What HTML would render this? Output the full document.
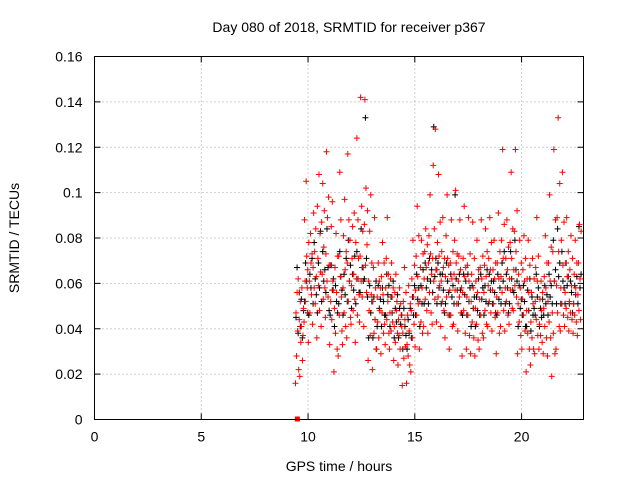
<!DOCTYPE html>
<html><head><meta charset="utf-8">
<style>
html,body{margin:0;padding:0;background:#fff;}
svg{display:block;font-family:"Liberation Sans",sans-serif;}
</style></head>
<body>
<svg id="chart" width="640" height="480" viewBox="0 0 640 480">
<text x="349" y="32" font-size="14" text-anchor="middle">Day 080 of 2018, SRMTID for receiver p367</text>
<text x="339" y="471" font-size="14" text-anchor="middle">GPS time / hours</text>
<text x="19" y="238" font-size="14" text-anchor="middle" transform="rotate(-90 19 238)">SRMTID / TECUs</text>
<g id="grid"></g>
<g id="axes"></g>
<g id="black"></g>
<g id="red"></g>
<rect x="94.5" y="56.5" width="489" height="363" fill="none" stroke="#000"/>
</svg>
<script>
const xTicks=[0,5,10,15,20];
const yTicks=[0,0.02,0.04,0.06,0.08,0.1,0.12,0.14,0.16];
const yTickLabels=["0","0.02","0.04","0.06","0.08","0.1","0.12","0.14","0.16"];
const slotTimes=[9.5,9.7,9.9,10.1,10.3,10.5,10.7,10.9,11.1,11.3,11.5,11.7,11.9,12.1,12.3,12.5,12.7,12.9,13.1,13.3,13.5,13.7,13.9,14.1,14.3,14.5,14.7,14.9,15.1,15.3,15.5,15.7,15.9,16.1,16.3,16.5,16.7,16.9,17.1,17.3,17.5,17.7,17.9,18.1,18.3,18.5,18.7,18.9,19.1,19.3,19.5,19.7,19.9,20.1,20.3,20.5,20.7,20.9,21.1,21.3,21.5,21.7,21.9,22.1,22.3,22.5,22.7];
const redValues=[
[0.016,0.047,0.028,0.056,0.039,0.062,0.022,0.044],
[0.019,0.052,0.034,0.041,0.058,0.026,0.037,0.049],
[0.043,0.088,0.061,0.052,0.105,0.072,0.058,0.066],
[0.034,0.078,0.061,0.047,0.082,0.069,0.055,0.073],
[0.042,0.067,0.091,0.058,0.074,0.051,0.084,0.063],
[0.036,0.094,0.071,0.059,0.108,0.048,0.082,0.065],
[0.041,0.087,0.064,0.104,0.053,0.076,0.092,0.058],
[0.045,0.073,0.118,0.061,0.089,0.054,0.098,0.068],
[0.033,0.068,0.052,0.085,0.044,0.096,0.061,0.057],
[0.021,0.049,0.067,0.038,0.082,0.056,0.031,0.072],
[0.028,0.072,0.046,0.109,0.063,0.088,0.054,0.039],
[0.033,0.058,0.081,0.047,0.097,0.066,0.041,0.074],
[0.036,0.069,0.117,0.052,0.088,0.061,0.079,0.045],
[0.042,0.059,0.071,0.085,0.048,0.064,0.091,0.053],
[0.034,0.078,0.062,0.124,0.046,0.088,0.071,0.055],
[0.043,0.072,0.142,0.061,0.094,0.054,0.083,0.067],
[0.041,0.086,0.141,0.068,0.102,0.056,0.077,0.092],
[0.026,0.061,0.048,0.083,0.037,0.099,0.055,0.069],
[0.022,0.052,0.067,0.038,0.089,0.044,0.058,0.031],
[0.031,0.054,0.043,0.069,0.036,0.061,0.048,0.058],
[0.029,0.063,0.047,0.078,0.055,0.038,0.069,0.042],
[0.033,0.058,0.071,0.044,0.089,0.052,0.064,0.038],
[0.031,0.047,0.062,0.039,0.069,0.054,0.043,0.058],
[0.026,0.041,0.056,0.034,0.064,0.048,0.052,0.038],
[0.024,0.044,0.037,0.058,0.031,0.051,0.046,0.041],
[0.015,0.038,0.052,0.027,0.067,0.044,0.032,0.056],
[0.016,0.033,0.046,0.028,0.059,0.039,0.024,0.051],
[0.021,0.048,0.062,0.036,0.079,0.054,0.042,0.068],
[0.032,0.057,0.072,0.046,0.094,0.063,0.051,0.081],
[0.031,0.052,0.067,0.043,0.079,0.058,0.038,0.073],
[0.041,0.062,0.074,0.053,0.084,0.067,0.048,0.077],
[0.038,0.069,0.081,0.056,0.099,0.073,0.047,0.064],
[0.042,0.071,0.112,0.061,0.084,0.053,0.128,0.066],
[0.043,0.066,0.078,0.054,0.108,0.072,0.059,0.087],
[0.041,0.061,0.074,0.052,0.089,0.067,0.048,0.071],
[0.036,0.063,0.081,0.054,0.099,0.071,0.046,0.068],
[0.031,0.057,0.069,0.046,0.088,0.062,0.041,0.074],
[0.042,0.064,0.079,0.057,0.101,0.069,0.051,0.073],
[0.039,0.061,0.072,0.054,0.088,0.066,0.047,0.058],
[0.028,0.056,0.071,0.048,0.094,0.063,0.038,0.067],
[0.031,0.054,0.068,0.046,0.089,0.061,0.037,0.073],
[0.029,0.052,0.064,0.043,0.087,0.058,0.036,0.071],
[0.028,0.049,0.061,0.042,0.079,0.056,0.035,0.066],
[0.031,0.053,0.067,0.046,0.088,0.062,0.038,0.072],
[0.036,0.056,0.068,0.048,0.084,0.063,0.042,0.074],
[0.041,0.059,0.071,0.052,0.089,0.066,0.047,0.078],
[0.039,0.057,0.066,0.051,0.079,0.062,0.045,0.069],
[0.029,0.054,0.069,0.047,0.091,0.062,0.038,0.074],
[0.041,0.063,0.079,0.056,0.119,0.071,0.048,0.086],
[0.039,0.058,0.071,0.052,0.088,0.066,0.046,0.076],
[0.042,0.062,0.078,0.057,0.109,0.071,0.049,0.084],
[0.048,0.066,0.083,0.059,0.119,0.074,0.054,0.092],
[0.029,0.051,0.064,0.043,0.079,0.058,0.037,0.069],
[0.031,0.053,0.066,0.046,0.081,0.061,0.039,0.071],
[0.021,0.048,0.062,0.038,0.079,0.056,0.031,0.068],
[0.024,0.043,0.056,0.036,0.071,0.051,0.031,0.062],
[0.029,0.052,0.067,0.044,0.089,0.061,0.037,0.072],
[0.031,0.042,0.053,0.037,0.061,0.048,0.034,0.056],
[0.029,0.049,0.063,0.041,0.081,0.058,0.036,0.069],
[0.028,0.052,0.069,0.043,0.099,0.061,0.036,0.076],
[0.019,0.047,0.074,0.038,0.119,0.061,0.029,0.088],
[0.031,0.059,0.089,0.047,0.133,0.074,0.041,0.104],
[0.039,0.058,0.079,0.051,0.109,0.068,0.046,0.087],
[0.041,0.056,0.069,0.049,0.089,0.063,0.045,0.074],
[0.039,0.052,0.066,0.047,0.081,0.059,0.044,0.071],
[0.038,0.051,0.064,0.046,0.079,0.058,0.043,0.069],
[0.037,0.055,0.069,0.048,0.086,0.062,0.044,0.083]];
const blackValues=[
[0.045,0.067,0.038,0.056],[0.041,0.053,0.036,0.048],[0.052,0.069,0.061,0.047],[0.046,0.064,0.058,0.071],
[0.051,0.078,0.062,0.055],[0.047,0.069,0.058,0.083],[0.052,0.074,0.061,0.066],[0.056,0.084,0.067,0.048],
[0.046,0.068,0.057,0.062],[0.041,0.059,0.052,0.047],[0.051,0.074,0.063,0.057],[0.046,0.064,0.055,0.071],
[0.052,0.079,0.061,0.068],[0.049,0.064,0.057,0.072],[0.051,0.074,0.062,0.056],[0.056,0.084,0.067,0.061],
[0.062,0.133,0.071,0.054],[0.036,0.059,0.047,0.052],[0.036,0.054,0.044,0.061],[0.041,0.059,0.049,0.053],
[0.041,0.058,0.052,0.046],[0.046,0.064,0.055,0.059],[0.041,0.054,0.047,0.061],[0.036,0.049,0.043,0.055],
[0.036,0.049,0.042,0.046],[0.031,0.049,0.041,0.037],[0.031,0.044,0.038,0.049],[0.036,0.054,0.046,0.059],
[0.046,0.064,0.053,0.058],[0.041,0.059,0.051,0.066],[0.051,0.069,0.058,0.062],[0.051,0.071,0.061,0.066],
[0.056,0.129,0.063,0.071],[0.051,0.069,0.058,0.064],[0.051,0.064,0.057,0.047],[0.051,0.069,0.061,0.056],
[0.046,0.064,0.054,0.059],[0.051,0.099,0.062,0.057],[0.051,0.064,0.057,0.047],[0.046,0.064,0.055,0.061],
[0.046,0.064,0.052,0.058],[0.041,0.059,0.049,0.054],[0.041,0.054,0.048,0.062],[0.046,0.064,0.053,0.058],
[0.046,0.059,0.052,0.066],[0.051,0.064,0.057,0.061],[0.051,0.061,0.056,0.047],[0.046,0.064,0.053,0.058],
[0.051,0.069,0.061,0.074],[0.051,0.064,0.058,0.047],[0.051,0.074,0.062,0.057],[0.056,0.079,0.066,0.061],
[0.041,0.059,0.049,0.053],[0.046,0.059,0.052,0.041],[0.041,0.057,0.048,0.062],[0.039,0.054,0.046,0.049],
[0.046,0.064,0.054,0.058],[0.041,0.049,0.045,0.053],[0.046,0.059,0.051,0.055],[0.046,0.064,0.054,0.059],
[0.051,0.079,0.061,0.066],[0.051,0.084,0.063,0.069],[0.051,0.074,0.061,0.058],[0.051,0.069,0.059,0.063],
[0.051,0.061,0.056,0.047],[0.051,0.059,0.055,0.063],[0.051,0.085,0.058,0.064]];
const X0=94.5,X1=583.5,Y0=419.5,Y1=56.5,XMAX=22.9,YMAX=0.16;
const sx=t=>X0+(t/XMAX)*(X1-X0);
const sy=v=>Y0-(v/YMAX)*(Y0-Y1);
const NS='http://www.w3.org/2000/svg';
function mk(tag,parent,attrs){const e=document.createElementNS(NS,tag);for(const k in attrs)e.setAttribute(k,attrs[k]);parent.appendChild(e);return e;}
const grid=document.getElementById('grid'),axes=document.getElementById('axes');
xTicks.forEach((t,i)=>{
  const x=sx(t);
  if(t>0){const g=mk('line',grid,{x1:x,y1:Y1,x2:x,y2:Y0,stroke:'#a0a0a0','stroke-dasharray':'1,3'});
  
  }
  const tk=mk('path',axes,{d:`M${x},${Y0}v-6M${x},${Y1}v6`,stroke:'#000'});
  
  
  const l=mk('text',axes,{x:x,y:Y0+22,'font-size':14,'text-anchor':'middle'});l.textContent=String(t);
  
  
});
yTicks.forEach((v,i)=>{
  const y=sy(v);
  if(v>0&&v<YMAX){const g=mk('line',grid,{x1:X0,y1:y,x2:X1,y2:y,stroke:'#a0a0a0','stroke-dasharray':'1,3'});
  
  }
  const tk=mk('path',axes,{d:`M${X0},${y}h6M${X1},${y}h-6`,stroke:'#000'});
  
  
  const l=mk('text',axes,{x:X0-12,y:y+5,'font-size':14,'text-anchor':'end'});l.textContent=yTickLabels[i];
  
  
});
function plus(g,t,v,color,name){
  const x=sx(t),y=sy(v);
  const p=mk('path',g,{d:`M${x-3},${y}h6M${x},${y-3}v6`,stroke:color,'stroke-width':1});
  
  
}
const bg=document.getElementById('black'),rg=document.getElementById('red');
slotTimes.forEach((t,i)=>{
  const n=blackValues[i].length;
  blackValues[i].forEach((v,j)=>plus(bg,t+((j+0.5)/n-0.5)*0.2+0.012,v,'#000','black-point'));
});
slotTimes.forEach((t,i)=>{
  const n=redValues[i].length;
  redValues[i].forEach((v,j)=>plus(rg,t+((j+0.5)/n-0.5)*0.2,v,'#ff0000','red-point'));
});
const m=mk('rect',rg,{x:sx(9.5)-2.5,y:Y0-3,width:5,height:5,fill:'#ff0000'});


</script>
</body></html>
